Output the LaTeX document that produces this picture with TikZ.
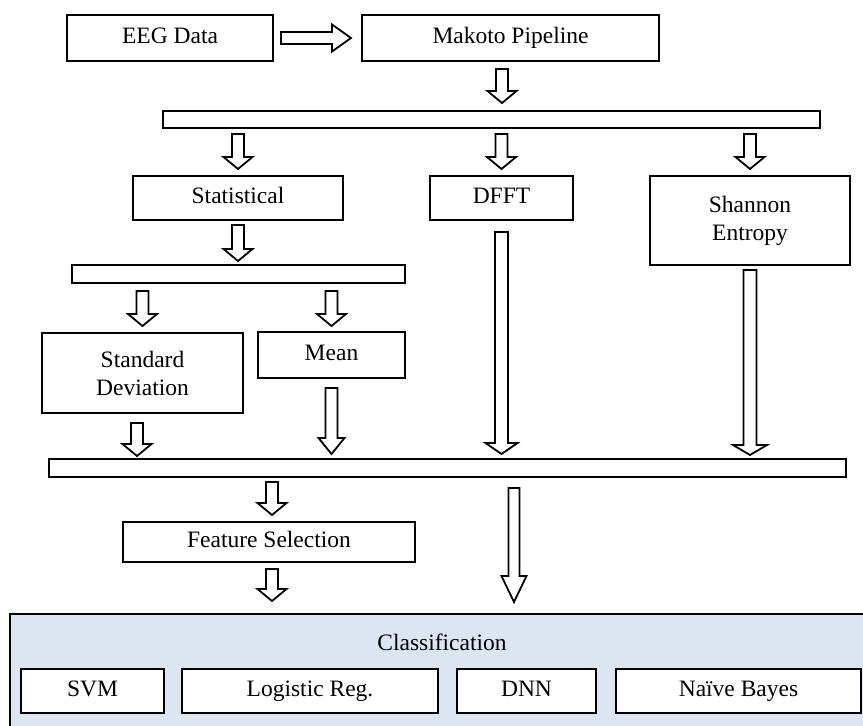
\documentclass[tikz,border=0pt]{standalone}
\usepackage{fontspec}
\setmainfont{Liberation Serif}
\usetikzlibrary{calc}
\definecolor{clsblue}{RGB}{220,230,242}
\tikzset{
  box/.style={draw=black, line width=2pt, fill=white, rectangle, inner sep=0pt,
    align=center, font=\fontsize{23.5}{28}\selectfont},
  oneline/.style={text height=16pt, text depth=5pt},
  barbox/.style={draw=black, line width=2pt, fill=white, rectangle, inner sep=0pt},
  groupbox/.style={draw=black, line width=2pt, fill=clsblue, rectangle, inner sep=0pt},
  lbl/.style={inner sep=0pt, font=\fontsize{23.5}{28}\selectfont},
  blockarrow/.style={draw=black, fill=white, line width=1.8pt, line join=miter},
}
% #1 start coordinate, #2 coordinate giving the tip's y, #3 shaft half width, #4 head half width, #5 head length
\newcommand\barrow[5]{%
  \path[blockarrow] let \p1=#1, \p2=#2 in
   (\x1-#3pt,\y1) -- (\x1-#3pt,\y2+#5pt) -- (\x1-#4pt,\y2+#5pt) -- (\x1,\y2)
   -- (\x1+#4pt,\y2+#5pt) -- (\x1+#3pt,\y2+#5pt) -- (\x1+#3pt,\y1) -- cycle;}
\begin{document}
\begin{tikzpicture}[x=1pt,y=-1pt]
\useasboundingbox (0,0) rectangle (863,726);
% classification group (runs past the right and bottom edges, as in the reference)
\node[groupbox, minimum width=865pt, minimum height=126pt] (cls) at (442.5,677) {};
\node[lbl, anchor=base] (clslbl) at (442,650) {Classification};
% boxes
\node[box, oneline, minimum width=206pt, minimum height=46pt] (eeg) at (170,38) {EEG Data};
\node[box, oneline, minimum width=297pt, minimum height=46pt] (mak) at (510.5,38) {Makoto Pipeline};
\node[barbox, minimum width=657pt, minimum height=17pt] (bar1) at (491.5,119.5) {};
\node[box, oneline, minimum width=210pt, minimum height=44pt] (stat) at (238,198) {Statistical};
\node[box, oneline, minimum width=143pt, minimum height=44pt] (dfft) at (501.5,198) {DFFT};
\node[box, minimum width=200pt, minimum height=89pt] (shan) at (750,220.5) {Shannon\\Entropy};
\node[barbox, minimum width=333pt, minimum height=18pt] (bar2) at (238.5,274) {};
\node[box, minimum width=201pt, minimum height=80pt] (std) at (142.5,373) {Standard\\Deviation};
\node[box, oneline, minimum width=147pt, minimum height=46pt] (mean) at (331.5,355) {Mean};
\node[barbox, minimum width=797pt, minimum height=18pt] (bar3) at (447.5,468) {};
\node[box, oneline, minimum width=292pt, minimum height=40pt] (fs) at (269,542) {Feature Selection};
\node[box, oneline, minimum width=143pt, minimum height=44pt] (svm) at (92.5,691) {SVM};
\node[box, oneline, minimum width=256pt, minimum height=44pt] (lr) at (310,691) {Logistic Reg.};
\node[box, oneline, minimum width=139pt, minimum height=44pt] (dnn) at (526.5,691) {DNN};
\node[box, oneline, minimum width=245pt, minimum height=44pt] (nb) at (738.5,691) {Naïve Bayes};
% horizontal block arrow EEG -> Makoto
\path[blockarrow] let \p1=([xshift=7pt]eeg.east), \p2=([xshift=-10pt]mak.west) in
  (\x1,\y1+6pt) -- (\x2-19pt,\y1+6pt) -- (\x2-19pt,\y1+13.5pt) -- (\x2,\y1)
  -- (\x2-19pt,\y1-13.5pt) -- (\x2-19pt,\y1-6pt) -- (\x1,\y1-6pt) -- cycle;
% vertical block arrows
\barrow{([xshift=-8.5pt,yshift=-7pt]mak.south)}{([yshift=7pt]bar1.north)}{6}{14.5}{12}
\barrow{([yshift=41pt]stat.north)}{([yshift=6pt]stat.north)}{6}{14.5}{12}
\barrow{([yshift=41pt]dfft.north)}{([yshift=6pt]dfft.north)}{6}{14.5}{12}
\barrow{([yshift=41pt]shan.north)}{([yshift=6pt]shan.north)}{6}{14.5}{12}
\barrow{([yshift=-4pt]stat.south)}{([yshift=3pt]bar2.north)}{6}{14.5}{12}
\barrow{([yshift=-11pt]dfft.south)}{([yshift=4pt]bar3.north)}{6.5}{16}{11}
\barrow{([yshift=-4pt]shan.south)}{([yshift=3pt]bar3.north)}{6.5}{17}{10}
\barrow{([yshift=41pt]std.north)}{([yshift=6pt]std.north)}{6}{14.5}{12}
\barrow{([yshift=40pt]mean.north)}{([yshift=5pt]mean.north)}{6}{14.5}{12}
\barrow{([xshift=-5.5pt,yshift=-9pt]std.south)}{([yshift=2pt]bar3.north)}{6}{14.5}{12}
\barrow{([yshift=-9pt]mean.south)}{([yshift=4pt]bar3.north)}{6}{13}{16}
\barrow{([xshift=3pt,yshift=39pt]fs.north)}{([yshift=6pt]fs.north)}{6}{14.5}{12}
\barrow{([xshift=3pt,yshift=-6pt]fs.south)}{([yshift=12pt]cls.north)}{6}{14.5}{12}
\coordinate (bigstart) at ([xshift=66.5pt,yshift=-10pt]bar3.south);
\barrow{(bigstart)}{([yshift=11pt]cls.north)}{5.5}{12.5}{26}
\end{tikzpicture}
\end{document}
